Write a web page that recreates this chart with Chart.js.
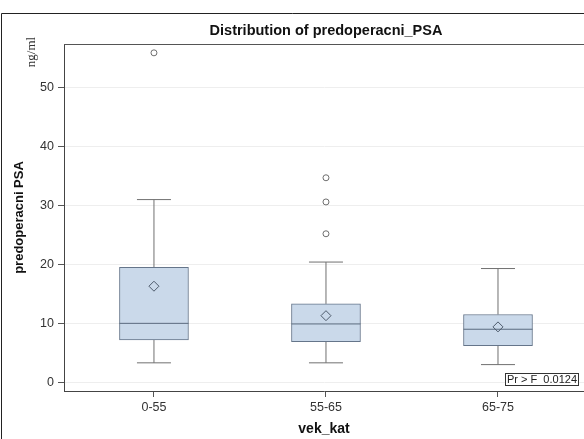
<!DOCTYPE html>
<html>
<head>
<meta charset="utf-8">
<script src="https://cdn.jsdelivr.net/npm/chart.js@4/dist/chart.umd.min.js"></script>
<style>
  body { margin: 0; background: #fff; }
</style>
</head>
<body>
<canvas id="myChart" width="584" height="439"></canvas>
<script>
// datos de las cajas
const categories = ['0-55', '55-65', '65-75'];
const whiskerLow = [3.3, 3.3, 3.0];
const q1 = [7.2, 6.9, 6.2];
const median = [10.0, 9.9, 9.0];
const q3 = [19.5, 13.3, 11.5];
const whiskerHigh = [31.0, 20.4, 19.3];
const means = [16.3, 11.3, 9.4];
const outlierGroup = [0, 1, 1, 1];
const outlierValue = [55.9, 34.7, 30.6, 25.2];
const yTicks = [0, 10, 20, 30, 40, 50];

const FONT = '"Liberation Sans", Arial, sans-serif';

// bigotes: segmentos separados por null
const stems = [];
const caps = [];
categories.forEach((c, i) => {
    stems.push({x: i, y: whiskerLow[i]}, {x: i, y: q1[i]}, {x: i, y: null});
    stems.push({x: i, y: q3[i]}, {x: i, y: whiskerHigh[i]}, {x: i, y: null});
    caps.push({x: i, y: whiskerLow[i]}, {x: i, y: whiskerHigh[i]});
});

const data = {
    datasets: [
        {
            type: 'bar',
            data: categories.map((c, i) => ({x: i, y: [q1[i], q3[i]]})),
            backgroundColor: '#cad9ea',
            borderColor: '#65758a',
            borderWidth: 1,
            borderSkipped: false,
            barThickness: 69,
            order: 5
        },
        {
            type: 'scatter',
            data: stems,
            showLine: true,
            spanGaps: false,
            borderColor: '#707070',
            borderWidth: 1,
            pointRadius: 0,
            order: 6
        },
        {
            type: 'scatter',
            data: caps,
            pointStyle: 'line',
            pointRadius: 17,
            borderColor: '#707070',
            borderWidth: 1,
            order: 4
        },
        {
            type: 'scatter',
            data: categories.map((c, i) => ({x: i, y: median[i]})),
            pointStyle: 'line',
            pointRadius: 34.5,
            borderColor: '#5a6a7e',
            borderWidth: 1,
            order: 2
        },
        {
            type: 'scatter',
            data: categories.map((c, i) => ({x: i, y: means[i]})),
            pointStyle: 'rectRot',
            pointRadius: 5,
            backgroundColor: 'rgba(0,0,0,0)',
            borderColor: '#4e5b6c',
            borderWidth: 1,
            order: 1
        },
        {
            type: 'scatter',
            data: outlierValue.map((v, i) => ({x: outlierGroup[i], y: v})),
            pointStyle: 'circle',
            pointRadius: 3,
            backgroundColor: '#fff',
            borderColor: '#6e6e6e',
            borderWidth: 1,
            order: 1
        }
    ]
};

// marco, título, unidades y cuadro Pr > F
const decor = {
    id: 'decor',
    afterDraw(chart) {
        const ctx = chart.ctx;
        const a = chart.chartArea;
        ctx.save();
        ctx.lineWidth = 1;
        ctx.strokeStyle = '#222';
        ctx.beginPath();
        ctx.moveTo(1.5, 439);
        ctx.lineTo(1.5, 13.5);
        ctx.lineTo(584, 13.5);
        ctx.stroke();

        ctx.strokeStyle = '#555';
        ctx.beginPath();
        ctx.moveTo(a.left, a.top + 0.5);
        ctx.lineTo(a.right, a.top + 0.5);
        ctx.stroke();

        ctx.fillStyle = '#111';
        ctx.textAlign = 'center';
        ctx.textBaseline = 'middle';
        ctx.font = 'bold 14.5px ' + FONT;
        ctx.fillText('Distribution of predoperacni_PSA', 326, 31);

        // cuadro Pr > F
        ctx.fillStyle = '#fff';
        ctx.fillRect(505.5, 373.5, 73, 12);
        ctx.strokeStyle = '#333';
        ctx.strokeRect(505.5, 373.5, 73, 12);
        ctx.fillStyle = '#222';
        ctx.font = '11px ' + FONT;
        ctx.fillText('Pr > F  0.0124', 542, 380);

        // unidades
        ctx.translate(32, 52);
        ctx.rotate(-Math.PI / 2);
        ctx.font = '13px "Liberation Serif", "Times New Roman", serif';
        ctx.fillStyle = '#333';
        ctx.fillText('ng/ml', 0, 0);
        ctx.restore();
    }
};

const options = {
    responsive: false,
    animation: false,
    layout: { autoPadding: false, padding: { top: 44, left: 0, right: 0, bottom: 0 } },
    plugins: {
        legend: { display: false },
        tooltip: { enabled: false }
    },
    scales: {
        x: {
            type: 'linear',
            min: -0.523,
            max: 2.5,
            offset: false,
            afterBuildTicks: s => { s.ticks = categories.map((c, i) => ({value: i})); },
            afterFit: s => { s.height = 48; s.paddingLeft = 0; s.paddingRight = 0; },
            ticks: {
                callback: v => categories[v],
                color: '#333',
                font: { family: FONT, size: 12.5 },
                padding: 3,
                maxRotation: 0
            },
            grid: { drawOnChartArea: false, offset: false, tickLength: 6, tickColor: '#555' },
            border: { color: '#444', width: 1 },
            title: {
                display: true,
                text: 'vek_kat',
                color: '#111',
                font: { family: FONT, size: 14, weight: 'bold' },
                padding: { top: 0, bottom: 1 }
            }
        },
        y: {
            min: -1.48,
            max: 57.4,
            afterBuildTicks: s => { s.ticks = yTicks.map(v => ({value: v})); },
            afterFit: s => { s.width = 64; s.paddingTop = 0; s.paddingBottom = 0; },
            ticks: {
                color: '#333',
                font: { family: FONT, size: 12.5 },
                padding: 4
            },
            grid: { color: '#eeeeee', tickLength: 6, tickColor: '#555' },
            border: { color: '#444', width: 1 },
            title: {
                display: true,
                text: 'predoperacni PSA',
                color: '#111',
                font: { family: FONT, size: 13, weight: 'bold' },
                padding: { top: 12, bottom: 0 }
            }
        }
    }
};

const config = {
    type: 'scatter',
    data,
    options,
    plugins: [decor]
};

const myChart = new Chart(document.getElementById('myChart').getContext('2d'), config);
</script>
</body>
</html>
